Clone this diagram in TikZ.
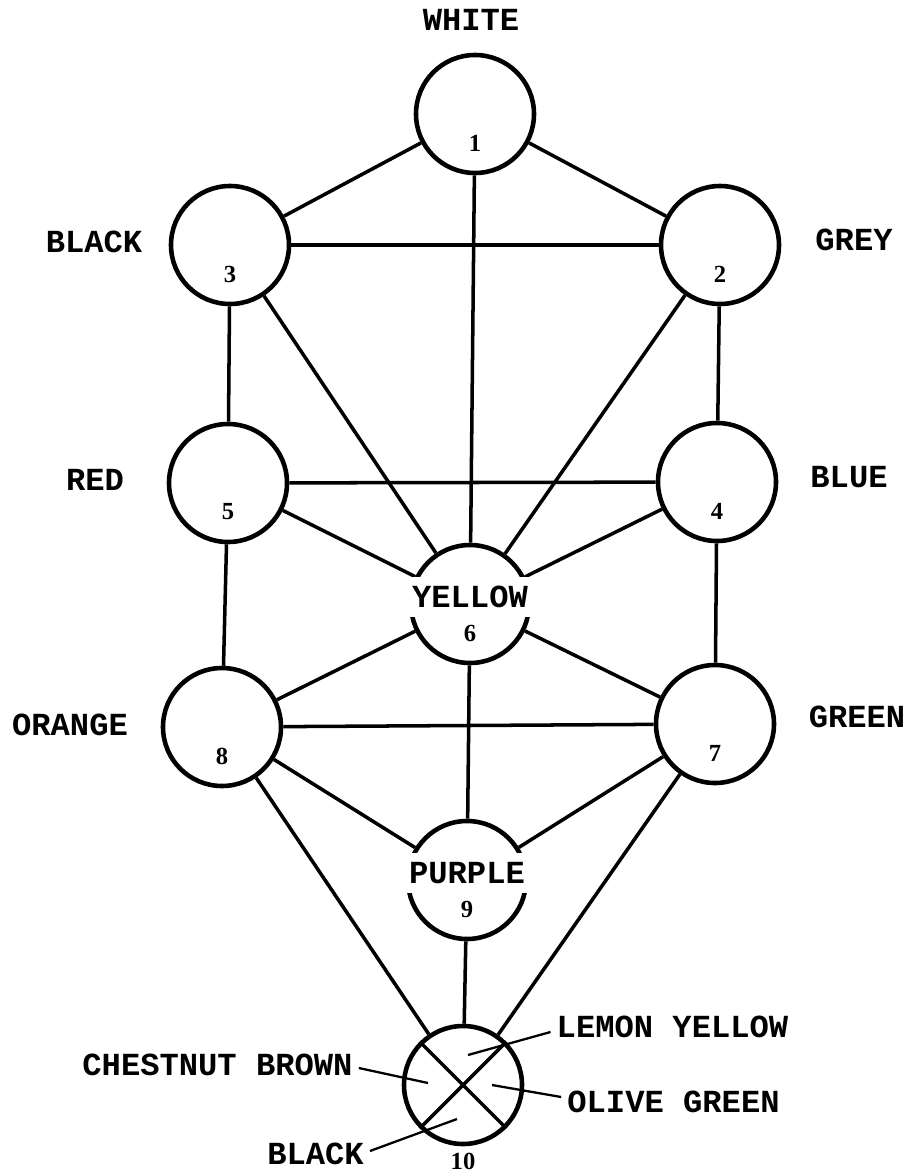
\documentclass[tikz,border=0pt]{standalone}
\usepackage{fontspec}
\newfontfamily\typefont{Liberation Mono}
\newfontfamily\numfont{Liberation Serif}
\usepackage{tikz}
\usetikzlibrary{positioning}

\begin{document}
\begin{tikzpicture}[
  sphere/.style={draw, circle, minimum size=2.36cm, line width=2.6pt},
  tag/.style={font=\typefont\bfseries\fontsize{18.3}{20}\selectfont},
  intag/.style={tag, fill=white, inner xsep=3pt, inner ysep=5pt},
  num/.style={font=\numfont\bfseries\fontsize{14}{16}\selectfont, inner sep=0.5pt},
  link/.style={line width=2pt},
  lead/.style={line width=1.3pt}
]
  \useasboundingbox (0,0) rectangle (18.18,-23.5);

  % Spheres
  \node[sphere] (n1) at (9.50,-2.28) {};
  \node[sphere] (n2) at (14.40,-4.90) {};
  \node[sphere] (n3) at (4.60,-4.90) {};
  \node[sphere] (n4) at (14.34,-9.64) {};
  \node[sphere] (n5) at (4.56,-9.66) {};
  \node[sphere] (n6) at (9.40,-12.08) {};
  \node[sphere] (n7) at (14.30,-14.48) {};
  \node[sphere] (n8) at (4.44,-14.54) {};
  \node[sphere] (n9) at (9.34,-17.60) {};
  \node[sphere] (n10) at (9.26,-21.70) {};

  % Paths
  \draw[link] (n1) -- (n3);
  \draw[link] (n1) -- (n2);
  \draw[link] (n1) -- (n6);
  \draw[link] (n3) -- (n2);
  \draw[link] (n3) -- (n5);
  \draw[link] (n3) -- (n6);
  \draw[link] (n2) -- (n4);
  \draw[link] (n2) -- (n6);
  \draw[link] (n5) -- (n4);
  \draw[link] (n5) -- (n6);
  \draw[link] (n4) -- (n6);
  \draw[link] (n5) -- (n8);
  \draw[link] (n4) -- (n7);
  \draw[link] (n6) -- (n8);
  \draw[link] (n6) -- (n7);
  \draw[link] (n6) -- (n9);
  \draw[link] (n8) -- (n7);
  \draw[link] (n8) -- (n9);
  \draw[link] (n7) -- (n9);
  \draw[link] (n8) -- (n10);
  \draw[link] (n9) -- (n10);
  \draw[link] (n7) -- (n10);

  % Quarters of 10
  \draw[link] (n10.north west) -- (n10.south east);
  \draw[link] (n10.north east) -- (n10.south west);

  % Colours
  \node[tag] (white) at (9.42,-0.40) {WHITE};
  \node[tag] (black) at (1.88,-4.84) {BLACK};
  \node[tag] (grey) at (17.08,-4.80) {GREY};
  \node[tag] (red) at (1.90,-9.60) {RED};
  \node[tag] (blue) at (16.98,-9.54) {BLUE};
  \node[tag] (orange) at (1.40,-14.50) {ORANGE};
  \node[tag] (green) at (17.14,-14.34) {GREEN};
  \node[intag] (yellow) at ([yshift=0.14cm]n6.center) {YELLOW};
  \node[intag] (purple) at ([yshift=0.14cm]n9.center) {PURPLE};

  % Numbers
  \foreach \i in {1,...,9}
    \node[num] (k\i) at ([yshift=-0.58cm]n\i.center) {\i};
  \node[num] (k10) at (9.26,-23.22) {10};

  % Colours of 10
  \node[tag] (lemon) at (13.45,-20.54) {LEMON YELLOW};
  \node[tag] (olive) at (13.47,-22.04) {OLIVE GREEN};
  \node[tag] (chestnut) at (4.35,-21.30) {CHESTNUT BROWN};
  \node[tag] (blackq) at (6.31,-23.08) {BLACK};
  \coordinate (qn) at (9.36,-21.10);
  \coordinate (qe) at (9.84,-21.70);
  \coordinate (qw) at (8.56,-21.66);
  \coordinate (qs) at (9.14,-22.38);
  \draw[lead] ([yshift=-0.1cm]lemon.west) -- (qn);
  \draw[lead] ([yshift=0.1cm]olive.west) -- (qe);
  \draw[lead] ([yshift=-0.06cm]chestnut.east) -- (qw);
  \draw[lead] ([yshift=0.06cm]blackq.east) -- (qs);
\end{tikzpicture}
\end{document}
